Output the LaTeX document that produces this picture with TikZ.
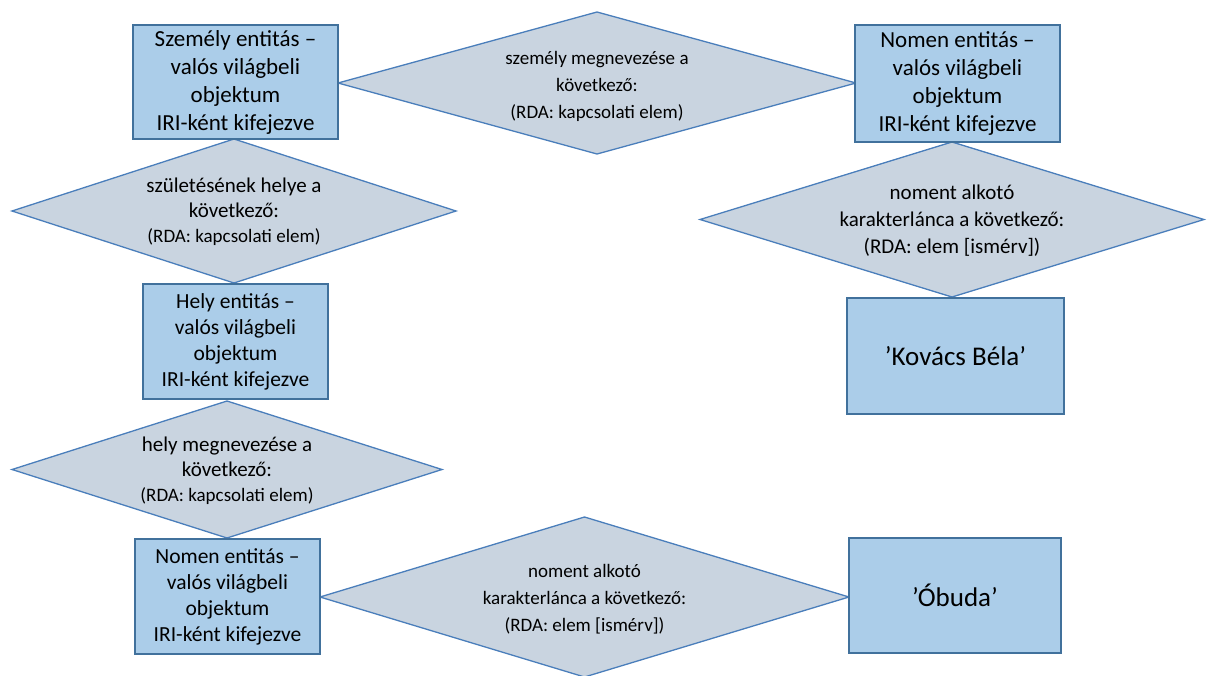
\documentclass[tikz,border=0pt]{standalone}
\usepackage{fontspec}
\setmainfont{Carlito}
\usetikzlibrary{calc}
\definecolor{boxfill}{HTML}{ABCDE9}
\definecolor{boxline}{HTML}{41719C}
\definecolor{relfill}{HTML}{C9D4E0}
\definecolor{relline}{HTML}{4A7EBB}

\begin{document}
\begin{tikzpicture}[x=1pt,y=-1pt,
  entity/.style={draw=boxline, fill=boxfill, line width=1.3pt, align=center,
    inner sep=0pt, text=black},
  bigtext/.style={font=\fontsize{23}{28}\selectfont},
  smalltext/.style={font=\fontsize{21.5}{26}\selectfont},
  valuetext/.style={font=\fontsize{27}{32}\selectfont},
  relshape/.style={draw=relline, fill=relfill, line width=1.3pt, line join=miter},
  reltext/.style={align=center, inner sep=0pt, text=black}]
\useasboundingbox (0,0) rectangle (1208,675);

% relationship diamonds (centre, half width, half height)
\coordinate (r1) at (597,83);
\coordinate (r2) at (234,211);
\coordinate (r3) at (227,469.5);
\coordinate (r4) at (584.5,597);
\coordinate (r5) at (952,219.5);

\draw[relshape] ($(r1)+(-259,0)$) -- ($(r1)+(0,-71)$) -- ($(r1)+(259,0)$) -- ($(r1)+(0,71)$) -- cycle;
\draw[relshape] ($(r2)+(-222,0)$) -- ($(r2)+(0,-72)$) -- ($(r2)+(222,0)$) -- ($(r2)+(0,72)$) -- cycle;
\draw[relshape] ($(r3)+(-215,0)$) -- ($(r3)+(0,-68.5)$) -- ($(r3)+(215,0)$) -- ($(r3)+(0,68.5)$) -- cycle;
\draw[relshape] ($(r4)+(-264.5,0)$) -- ($(r4)+(0,-80)$) -- ($(r4)+(264.5,0)$) -- ($(r4)+(0,80)$) -- cycle;
\draw[relshape] ($(r5)+(-252,0)$) -- ($(r5)+(0,-77.5)$) -- ($(r5)+(252,0)$) -- ($(r5)+(0,77.5)$) -- cycle;

\node[reltext, font=\fontsize{19}{27}\selectfont] (t1) at ($(r1)+(0,3)$)
  {személy megnevezése a\\következő:\\(RDA: kapcsolati elem)};
\node[reltext, font=\fontsize{21}{25}\selectfont] (t2) at ($(r2)+(0,1)$)
  {születésének helye a\\következő:\\{\fontsize{19}{25}\selectfont (RDA: kapcsolati elem)}};
\node[reltext, font=\fontsize{21}{25}\selectfont] (t3) at ($(r3)+(0,1)$)
  {hely megnevezése a\\következő:\\{\fontsize{19}{25}\selectfont (RDA: kapcsolati elem)}};
\node[reltext, font=\fontsize{19}{27}\selectfont] (t4) at ($(r4)+(0,2)$)
  {noment alkotó\\karakterlánca a következő:\\(RDA: elem [ismérv])};
\node[reltext, font=\fontsize{21}{27}\selectfont] (t5) at ($(r5)+(0,1)$)
  {noment alkotó\\karakterlánca a következő:\\(RDA: elem [ismérv])};

% entity boxes
\node[entity, bigtext, minimum width=205pt, minimum height=114pt] (szemely) at (235.5,82)
  {Személy entitás –\\valós világbeli\\objektum\\IRI-ként kifejezve};
\node[entity, bigtext, minimum width=205pt, minimum height=117pt] (nomen1) at (957.5,83.5)
  {Nomen entitás –\\valós világbeli\\objektum\\IRI-ként kifejezve};
\node[entity, valuetext, minimum width=217pt, minimum height=116pt] (kovacs) at (955.5,356)
  {’Kovács Béla’};
\node[entity, smalltext, minimum width=185pt, minimum height=115pt] (hely) at (235.5,341.5)
  {Hely entitás –\\valós világbeli\\objektum\\IRI-ként kifejezve};
\node[entity, smalltext, minimum width=185pt, minimum height=115pt] (nomen2) at (227.5,596.5)
  {Nomen entitás –\\valós világbeli\\objektum\\IRI-ként kifejezve};
\node[entity, valuetext, minimum width=212pt, minimum height=115pt] (obuda) at (955,595.5)
  {’Óbuda’};
\end{tikzpicture}
\end{document}
